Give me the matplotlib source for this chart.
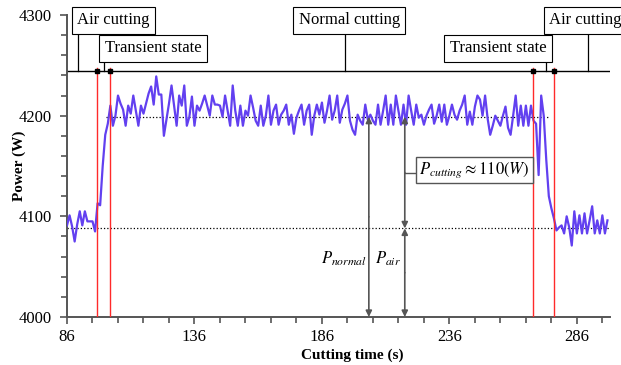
import numpy as np
import matplotlib
matplotlib.use("Agg")
import matplotlib.pyplot as plt
from matplotlib.ticker import MultipleLocator, FixedLocator

plt.rcParams['font.family'] = 'Liberation Serif'
plt.rcParams['mathtext.fontset'] = 'stix'

# sampled power, one value per second from 86 s to 298 s
time_s = np.arange(86, 299)
power_w = [
    4091, 4101, 4090, 4075, 4092, 4105, 4091, 4105, 4095, 4095,   # 86-95
    4095, 4085, 4113, 4111, 4150, 4181, 4192, 4210, 4190, 4200,   # 96-105
    4220, 4212, 4206, 4190, 4210, 4202, 4220, 4205, 4190, 4210,   # 106-115
    4202, 4212, 4222, 4229, 4211, 4239, 4221, 4221, 4180, 4196,   # 116-125
    4212, 4230, 4210, 4190, 4220, 4210, 4230, 4190, 4199, 4219,   # 126-135
    4190, 4210, 4205, 4212, 4220, 4210, 4200, 4220, 4211, 4211,   # 136-145
    4210, 4199, 4220, 4205, 4190, 4230, 4205, 4190, 4210, 4190,   # 146-155
    4205, 4200, 4220, 4208, 4195, 4190, 4210, 4190, 4200, 4220,   # 156-165
    4191, 4205, 4211, 4191, 4201, 4205, 4211, 4191, 4201, 4182,   # 166-175
    4198, 4205, 4211, 4191, 4205, 4211, 4181, 4200, 4211, 4201,   # 176-185
    4213, 4193, 4205, 4220, 4196, 4205, 4220, 4193, 4206, 4212,   # 186-195
    4220, 4195, 4186, 4181, 4201, 4195, 4191, 4211, 4196, 4201,   # 196-205
    4195, 4191, 4211, 4191, 4205, 4220, 4191, 4211, 4191, 4220,   # 206-215
    4205, 4191, 4211, 4191, 4220, 4205, 4191, 4211, 4198, 4201,   # 216-225
    4191, 4200, 4206, 4211, 4192, 4200, 4211, 4194, 4211, 4191,   # 226-235
    4200, 4211, 4201, 4196, 4205, 4211, 4220, 4191, 4204, 4191,   # 236-245
    4209, 4220, 4216, 4200, 4220, 4197, 4181, 4190, 4200, 4195,   # 246-255
    4190, 4200, 4209, 4188, 4181, 4200, 4220, 4190, 4210, 4190,   # 256-265
    4210, 4190, 4210, 4195, 4192, 4141, 4220, 4200, 4156, 4120,   # 266-275
    4108, 4098, 4086, 4089, 4091, 4083, 4100, 4089, 4071, 4105,   # 276-285
    4083, 4101, 4083, 4103, 4083, 4096, 4110, 4083, 4096, 4083,   # 286-295
    4101, 4083, 4096,                                             # 296-298
]

# reference levels and region boundaries
p_normal = 4199
p_air = 4088
phase_line = 4244
red_lines = [97.9, 102.8, 268.7, 277.1]

# stage labels: (text, text x, text y, leader x, leader top)
stages = [
    ("Air cutting", 104.3, 4295, 90.3, 4283),
    ("Transient state", 119.8, 4267, 100.5, 4255),
    ("Normal cutting", 196.7, 4295, 195.1, 4283),
    ("Transient state", 255.0, 4267, 273.7, 4255),
    ("Air cutting", 289.4, 4295, 290.2, 4283),
]

fig = plt.figure(figsize=(6.21, 3.65), dpi=100)
ax = fig.add_axes([0.1079, 0.1315, 0.8744, 0.8274])

ax.plot(time_s, power_w, color='#6240f0', lw=1.6, zorder=3)

for xr in red_lines:
    ax.plot([xr, xr], [4000, phase_line + 3], color='#ff2a2a', lw=1.0, zorder=4)
    ax.plot(xr, phase_line, 's', color='k', ms=2.5, zorder=5)

ax.plot([86, 299], [phase_line, phase_line], color='k', lw=1.0, zorder=2)
ax.plot([101.3, 274.8], [p_normal, p_normal], color='k', ls=':', lw=0.9, zorder=2)
ax.plot([86, 299], [p_air, p_air], color='k', ls=':', lw=0.9, zorder=2)

box = dict(boxstyle='square,pad=0.33', fc='white', ec='k', lw=0.8)
for label, tx, ty, lx, ltop in stages:
    ax.plot([lx, lx], [phase_line, ltop], color='k', lw=0.9, zorder=2)
    ax.text(tx, ty, label, ha='center', va='center', fontsize=12,
            bbox=box, zorder=6, clip_on=False)

# power arrows
arrow_kw = dict(arrowstyle='-|>', color='#555555', lw=1.2,
                mutation_scale=9, shrinkA=0, shrinkB=0)
def double_arrow(x, y0, y1):
    mid = (y0 + y1) / 2
    ax.annotate('', xy=(x, y0), xytext=(x, mid), arrowprops=arrow_kw, zorder=5)
    ax.annotate('', xy=(x, y1), xytext=(x, mid), arrowprops=arrow_kw, zorder=5)

x_normal, x_air = 204.4, 218.5
double_arrow(x_normal, 4000, p_normal)
double_arrow(x_air, 4000, p_air)
double_arrow(x_air, p_air, p_normal)

ax.plot([x_air, 224.2], [4143, 4143], color='#555555', lw=1.0, zorder=4)
ax.text(245.8, 4146, r'$P_{cutting}\approx 110(W)$', ha='center', va='center',
        fontsize=12, bbox=dict(boxstyle='square,pad=0.2', fc='white', ec='#555555', lw=1.0),
        zorder=6)
ax.text(x_normal - 0.8, 4058, r'$P_{normal}$', ha='right', va='center', fontsize=12)
ax.text(x_air - 1.5, 4058, r'$P_{air}$', ha='right', va='center', fontsize=12)

ax.set_xlim(86, 299)
ax.set_ylim(4000, 4300)
ax.xaxis.set_major_locator(FixedLocator([86, 136, 186, 236, 286]))
ax.xaxis.set_minor_locator(MultipleLocator(10, offset=6))
ax.yaxis.set_major_locator(MultipleLocator(100))
ax.yaxis.set_minor_locator(MultipleLocator(20))

for side in ['top', 'right']:
    ax.spines[side].set_visible(False)
for side in ['left', 'bottom']:
    ax.spines[side].set_color('#555555')
    ax.spines[side].set_linewidth(1.4)
ax.tick_params(which='both', direction='out', color='#555555', width=1.2, labelsize=12)
ax.tick_params(which='major', length=5)
ax.tick_params(which='minor', length=4)
ax.tick_params(axis='y', which='major', pad=6)

ax.set_xlabel('Cutting time (s)', fontsize=11, fontweight='bold')
ax.set_ylabel('Power (W)', fontsize=11, fontweight='bold')
ax.xaxis.set_label_coords(0.525, -0.105)
ax.yaxis.set_label_coords(-0.075, 0.5)

fig.savefig('out.png', dpi=100)
